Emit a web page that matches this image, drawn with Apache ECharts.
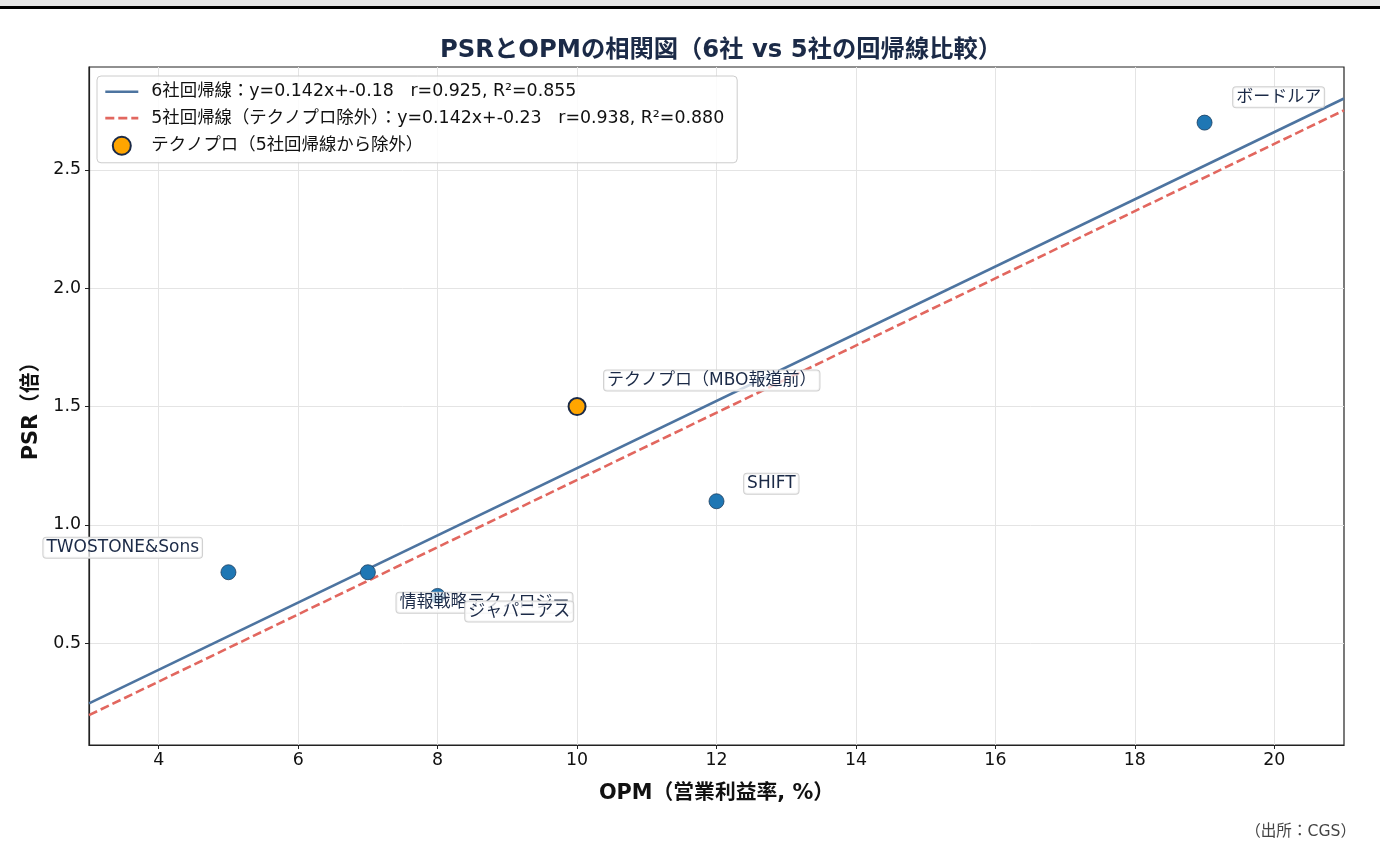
<!DOCTYPE html>
<html>
<head>
<meta charset="utf-8">
<script src="https://cdn.jsdelivr.net/npm/echarts@6/dist/echarts.min.js"></script>
<style>
html,body{margin:0;padding:0;background:#fff;}
#chart{width:1380px;height:848px;}
</style>
</head>
<body>
<div id="chart"></div>
<script>
// ---- data ----
const companies = ['TWOSTONE&Sons', '情報戦略テクノロジー', 'ジャパニアス', 'SHIFT', 'ボードルア'];
const opm = [5, 7, 8, 12, 19];
const psr = [0.8, 0.8, 0.7, 1.1, 2.7];
const excludedName = 'テクノプロ（MBO報道前）';
const excludedOpm = [10];
const excludedPsr = [1.5];
const fit6 = { slope: 0.142, intercept: -0.18, r: 0.925, r2: 0.855 };
const fit5 = { slope: 0.142, intercept: -0.23, r: 0.938, r2: 0.880 };
const xRange = [3, 21];
const yRange = [0.07, 2.935];
const xTicks = [4, 6, 8, 10, 12, 14, 16, 18, 20];
const yTicks = [0.5, 1.0, 1.5, 2.0, 2.5];

// ---- styling (label offsets relative to point centre, in px) ----
const labelOffsets = {
  'TWOSTONE&Sons': { dx: -26, dy: -24, align: 'right' },
  '情報戦略テクノロジー': { dx: 29, dy: 31, align: 'left' },
  'ジャパニアス': { dx: 28, dy: 16, align: 'left' },
  'SHIFT': { dx: 28, dy: -17, align: 'left' },
  'ボードルア': { dx: 29, dy: -25, align: 'left' },
  'テクノプロ（MBO報道前）': { dx: 28, dy: -25, align: 'left' }
};
const FONT = '"DejaVu Sans", "Noto Sans CJK TC", sans-serif';
const NAVY = '#1b2a47';
const BLUE_LINE = '#4d74a0';
const RED_LINE = '#e2675f';
const BASE = 17.4;

function labelFor(name, size) {
  const o = labelOffsets[name];
  return {
    show: true,
    formatter: name,
    position: [size / 2 + o.dx, size / 2 + o.dy],
    align: o.align,
    verticalAlign: 'middle',
    fontSize: 17,
    fontFamily: FONT,
    color: NAVY,
    backgroundColor: 'rgba(255,255,255,0.75)',
    borderColor: '#d0d0d0',
    borderWidth: 1,
    borderRadius: 3,
    padding: [2, 3, 1, 3]
  };
}

const lineName6 = '6社回帰線：y=' + fit6.slope.toFixed(3) + 'x+' + fit6.intercept.toFixed(2) + '   r=' + fit6.r.toFixed(3) + ', R²=' + fit6.r2.toFixed(3);
const lineName5 = '5社回帰線（テクノプロ除外）：y=' + fit5.slope.toFixed(3) + 'x+' + fit5.intercept.toFixed(2) + '   r=' + fit5.r.toFixed(3) + ', R²=' + fit5.r2.toFixed(3);
const excludedLegend = 'テクノプロ（5社回帰線から除外）';

const line6 = xRange.map(x => [x, fit6.slope * x + fit6.intercept]);
const line5 = xRange.map(x => [x, fit5.slope * x + fit5.intercept]);

const blueSize = 15, orangeSize = 17;

const chart = echarts.init(document.getElementById('chart'), null, { renderer: 'canvas' });
chart.setOption({
  animation: false,
  backgroundColor: '#fff',
  textStyle: { fontFamily: FONT },
  graphic: [
    { type: 'rect', shape: { x: 0, y: 0, width: 1380, height: 6 }, style: { fill: '#e6e6e6' }, silent: true },
    { type: 'rect', shape: { x: 0, y: 6, width: 1380, height: 3 }, style: { fill: '#000' }, silent: true },
    { type: 'text', right: 24, top: 824, style: { text: '（出所：CGS）', fontSize: 15.6, fontFamily: FONT, fill: '#444' } }
  ],
  title: {
    text: 'PSRとOPMの相関図（6社 vs 5社の回帰線比較）',
    left: 716, top: 34, textAlign: 'center',
    textStyle: { fontSize: 24.3, fontWeight: 'bold', color: NAVY, fontFamily: FONT }
  },
  grid: { left: 89, right: 36, top: 67, bottom: 103, show: true, borderColor: '#222', borderWidth: 1.2, backgroundColor: 'transparent' },
  legend: {
    orient: 'vertical',
    left: 97, top: 76,
    padding: [7, 13, 7, 7],
    itemGap: 9,
    itemWidth: 33, itemHeight: 18,
    backgroundColor: 'rgba(255,255,255,0.85)',
    borderColor: '#cccccc', borderWidth: 1, borderRadius: 4,
    textStyle: { fontSize: BASE, fontFamily: FONT, color: '#111', padding: [0, 0, 0, 8] },
    data: [
      { name: lineName6, icon: 'line', itemStyle: { color: BLUE_LINE, borderColor: BLUE_LINE, borderWidth: 2.6 } },
      { name: lineName5, icon: 'line', itemStyle: { color: RED_LINE, borderColor: RED_LINE, borderWidth: 2.6, borderType: [9, 4] } },
      { name: excludedLegend }
    ]
  },
  xAxis: {
    type: 'value', min: xRange[0], max: xRange[1],
    name: 'OPM（営業利益率, %）', nameLocation: 'middle', nameGap: 38,
    nameTextStyle: { fontSize: 20.8, fontWeight: 'bold', color: '#111', fontFamily: FONT },
    axisLine: { show: true, onZero: false, lineStyle: { color: '#222', width: 1.2 } },
    axisTick: { show: true, length: 4, customValues: xTicks, lineStyle: { color: '#222' } },
    axisLabel: { customValues: xTicks, fontSize: BASE, color: '#111', margin: 7, fontFamily: FONT },
    splitLine: { show: true, lineStyle: { color: '#e4e4e4', width: 1 } }
  },
  yAxis: {
    type: 'value', min: yRange[0], max: yRange[1],
    name: 'PSR（倍）', nameLocation: 'middle', nameGap: 37,
    nameTextStyle: { fontSize: 20.8, fontWeight: 'bold', color: '#111', fontFamily: FONT },
    axisLine: { show: true, onZero: false, lineStyle: { color: '#222', width: 1.2 } },
    axisTick: { show: true, length: 4, customValues: yTicks, lineStyle: { color: '#222' } },
    axisLabel: { customValues: yTicks, fontSize: BASE, color: '#111', margin: 8, fontFamily: FONT, formatter: v => v.toFixed(1) },
    splitLine: { show: true, lineStyle: { color: '#e4e4e4', width: 1 } }
  },
  series: [
    {
      name: lineName6, type: 'line', data: line6, symbol: 'none', z: 3,
      lineStyle: { color: BLUE_LINE, width: 2.6 }, itemStyle: { color: BLUE_LINE }
    },
    {
      name: lineName5, type: 'line', data: line5, symbol: 'none', z: 3,
      lineStyle: { color: RED_LINE, width: 2.6, type: [9, 4] }, itemStyle: { color: RED_LINE }
    },
    {
      name: 'companies', type: 'scatter', symbolSize: blueSize, z: 4,
      itemStyle: { color: '#1f77b4', borderColor: '#1d3d5e', borderWidth: 0.8, opacity: 1 },
      data: companies.map((n, i) => ({ name: n, value: [opm[i], psr[i]], label: labelFor(n, blueSize) }))
    },
    {
      name: excludedLegend, type: 'scatter', symbolSize: orangeSize, z: 5,
      itemStyle: { color: '#ffa500', borderColor: NAVY, borderWidth: 2, opacity: 1 },
      data: excludedOpm.map((x, i) => ({ name: excludedName, value: [x, excludedPsr[i]], label: labelFor(excludedName, orangeSize) }))
    }
  ]
});
</script>
</body>
</html>
